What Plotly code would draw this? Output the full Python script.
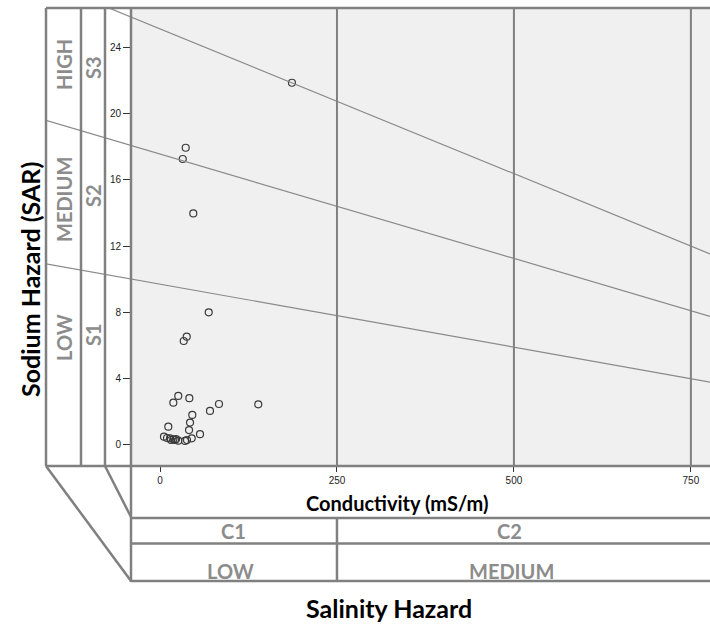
import plotly.graph_objects as go

# ---------------- data ----------------
conductivity = [186.4, 36.3, 32.1, 47.0, 68.8, 37.7, 33.5, 25.8, 18.8, 41.4,
                83.3, 70.6, 138.8, 45.6, 42.4, 41.0, 11.7, 56.5, 44.8, 5.6,
                14.1, 18.8, 25.8, 35.3, 9.9, 15.5, 21.2, 22.6, 38.1]
sar = [21.85, 17.93, 17.25, 13.97, 8.0, 6.53, 6.27, 2.96, 2.55, 2.82,
       2.47, 2.05, 2.45, 1.81, 1.35, 0.90, 1.10, 0.65, 0.40, 0.50,
       0.40, 0.34, 0.26, 0.24, 0.42, 0.30, 0.30, 0.36, 0.30]

x_ticks = [0, 250, 500, 750]
y_ticks = [0, 4, 8, 12, 16, 20, 24]
grid_x = [250, 500, 750]
salinity_break = 250

boundary_ec = [0, 750]          # conductivity at which boundary SAR is read
boundary_s3 = [25.1, 12.0]      # S2/S3 boundary
boundary_s2 = [17.55, 8.1]      # S1/S2 boundary
boundary_s1 = [9.7, 4.0]        # lower S1 line

sodium_classes = ["LOW", "MEDIUM", "HIGH"]
sodium_codes = ["S1", "S2", "S3"]
salinity_codes = ["C1", "C2"]
salinity_classes = ["LOW", "MEDIUM"]

X_RANGE = [-41, 777]
Y_RANGE = [-1.27, 26.36]

# ---------------- layout geometry ----------------
W, H = 710, 624
L, T, B, R = 46, 8, 158, 0
PW, PH = W - L - R, H - T - B


def px(xp):
    return (xp - L) / PW


def py(yp):
    return (H - B - yp) / PH


d0 = px(131)
span2 = (X_RANGE[1] - X_RANGE[0]) / (1 - d0)
X2_RANGE = [X_RANGE[1] - span2, X_RANGE[1]]

LINE_C = "#808080"
LABEL_C = "#8c8c8c"
FONT = "Lato"

fig = go.Figure()

# boundary lines (extended across the label columns)
for ys in (boundary_s3, boundary_s2, boundary_s1):
    slope = (ys[1] - ys[0]) / (boundary_ec[1] - boundary_ec[0])
    xs = [X2_RANGE[0], X2_RANGE[1]]
    yv = [ys[0] + slope * (x - boundary_ec[0]) for x in xs]
    fig.add_trace(go.Scatter(x=xs, y=yv, mode="lines", xaxis="x2", yaxis="y",
                             line=dict(color="#8a8a8a", width=1.2),
                             hoverinfo="skip", showlegend=False))

fig.add_trace(go.Scatter(x=conductivity, y=sar, mode="markers",
                         marker=dict(symbol="circle-open", size=7,
                                     color="#3a3a3a", line=dict(width=1.2)),
                         showlegend=False))

shapes = []
shapes.append(dict(type="rect", xref="paper", yref="paper", x0=d0, x1=1, y0=0, y1=1,
                   fillcolor="#f0f0f0", line=dict(width=0), layer="below"))
for g in grid_x:
    shapes.append(dict(type="line", xref="x", yref="paper", x0=g, x1=g, y0=0, y1=1,
                       line=dict(color=LINE_C, width=2)))
bw = 2.5
frame = [
    (0, 1, 1, 1), (0, 0, 1, 0),
    (0, 0, 0, 1), (px(81), 0, px(81), 1), (px(105), 0, px(105), 1),
    (d0, py(582), d0, 1),
    (d0, py(518), 1, py(518)), (d0, py(543.5), 1, py(543.5)), (d0, py(581), 1, py(581)),
    (0, 0, d0, py(581)), (px(105), 0, d0, py(517)),
]
for x0, y0, x1, y1 in frame:
    shapes.append(dict(type="line", xref="paper", yref="paper", x0=x0, y0=y0, x1=x1, y1=y1,
                       line=dict(color=LINE_C, width=bw)))
shapes.append(dict(type="line", xref="x", yref="paper", x0=salinity_break, x1=salinity_break,
                   y0=py(518), y1=py(581), line=dict(color=LINE_C, width=bw)))


def label(text, xp, yp, size, color, angle=0):
    return dict(text=f"<b>{text}</b>", x=px(xp), y=py(yp), xref="paper", yref="paper",
                xanchor="center", yanchor="middle", textangle=angle, showarrow=False,
                font=dict(family=FONT, size=size, color=color))


ann = []
for name, (yy, xx) in zip(sodium_classes, [(338, 64), (200, 64), (65, 64)]):
    ann.append(label(name, xx, yy, 20, LABEL_C, -90))
for name, (yy, xx) in zip(sodium_codes, [(335, 93), (196, 93), (68, 93)]):
    ann.append(label(name, xx, yy, 20, LABEL_C, -90))
for name, xx in zip(salinity_codes, [233, 509]):
    ann.append(label(name, xx, 531, 20, LABEL_C))
for name, xx in zip(salinity_classes, [230, 511]):
    ann.append(label(name, xx, 571, 20, LABEL_C))

ann.append(label("Conductivity (mS/m)", 397, 503, 20, "black"))
ann.append(label("Salinity Hazard", 389, 608, 25, "black"))
ann.append(label("Sodium Hazard (SAR)", 30, 280, 25, "black", -90))

fig.update_layout(
    width=W, height=H,
    margin=dict(l=L, r=R, t=T, b=B, autoexpand=False),
    paper_bgcolor="white", plot_bgcolor="rgba(0,0,0,0)",
    xaxis=dict(domain=[d0, 1], range=X_RANGE, tickvals=x_ticks, ticks="outside", ticklen=5,
               tickcolor="#333", tickwidth=1, showgrid=False, zeroline=False, showline=False,
               tickfont=dict(family="Arial, Liberation Sans", size=10, color="#222"), anchor="y"),
    xaxis2=dict(domain=[0, 1], range=X2_RANGE, visible=False, anchor="y"),
    yaxis=dict(range=Y_RANGE, tickvals=y_ticks, ticks="outside", ticklen=7, tickcolor="#333",
               tickwidth=1, showgrid=False, zeroline=False, showline=False, anchor="x",
               tickfont=dict(family="Arial, Liberation Sans", size=10, color="#222")),
    shapes=shapes, annotations=ann,
)

fig.write_html("out.html", config={"displayModeBar": False},
               post_script="document.body.style.margin='0';document.body.style.overflow='hidden';")
